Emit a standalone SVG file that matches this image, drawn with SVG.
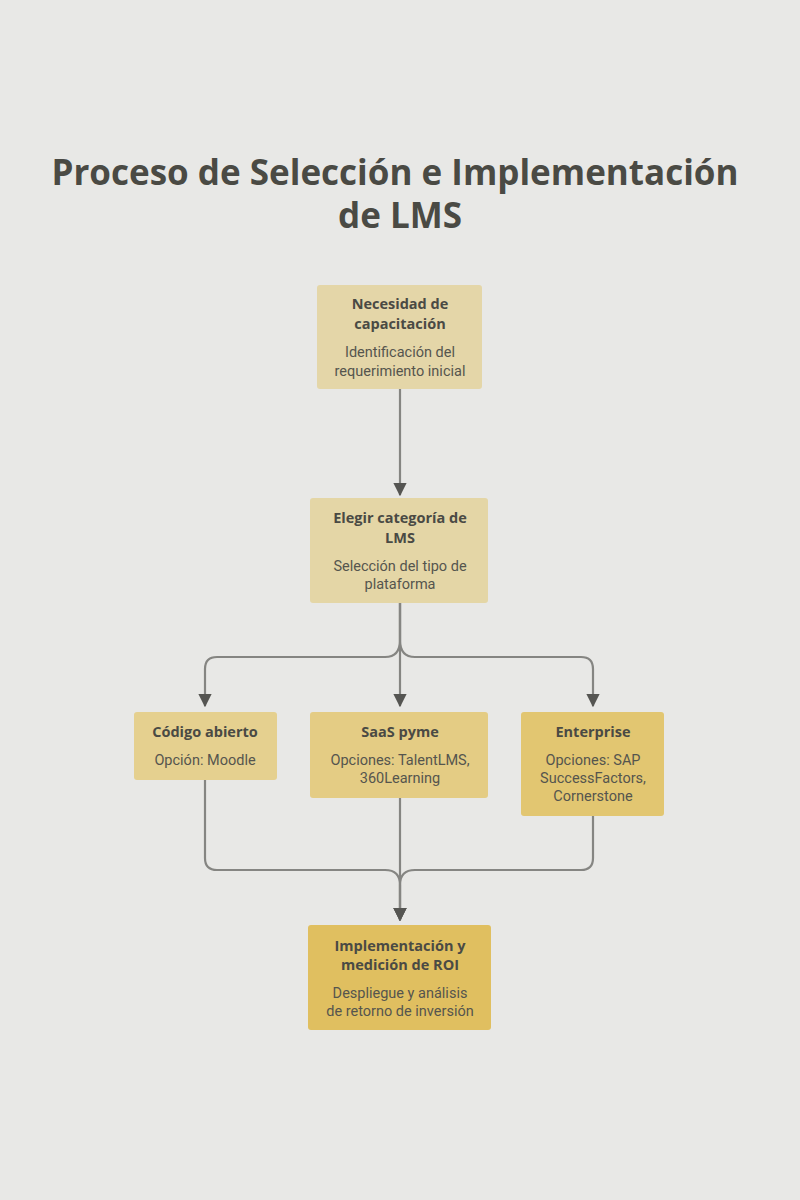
<svg xmlns="http://www.w3.org/2000/svg" width="800" height="1200" viewBox="0 0 800 1200">
<style>
.t{font-family:"Open Sans","Noto Sans",sans-serif;font-weight:bold;fill:#4a4a44;text-anchor:middle}
.h{font-family:"Open Sans","Noto Sans",sans-serif;font-weight:bold;font-size:14.5px;fill:#4a4a44;text-anchor:middle}
.b{font-family:Roboto,"Liberation Sans",sans-serif;font-size:14.5px;fill:#55554e;text-anchor:middle}
.c{fill:none;stroke:#858582;stroke-width:2.2}
</style>
<defs><marker id="a" viewBox="0 0 10 10" refX="9" refY="5" markerWidth="6" markerHeight="6" orient="auto"><path d="M0,0L10,5L0,10z" fill="#555552"/></marker></defs>
<rect width="800" height="1200" fill="#e8e8e6"/>
<text class="t" font-size="35" x="395" y="185">Proceso de Selección e Implementación</text>
<text class="t" font-size="35" x="400" y="228">de LMS</text>
<g id="connectors">
<path class="c" d="M400,389V495" marker-end="url(#a)"/>
<path class="c" d="M400,603V706" marker-end="url(#a)"/>
<path class="c" d="M400,603V640Q400,657 385,657H217Q205,657 205,669V706" marker-end="url(#a)"/>
<path class="c" d="M400,603V640Q400,657 415,657H581Q593,657 593,669V706" marker-end="url(#a)"/>
<path class="c" d="M205,780V858Q205,870 217,870H385Q400,870 400,885V920" marker-end="url(#a)"/>
<path class="c" d="M400,798V920" marker-end="url(#a)"/>
<path class="c" d="M593,816V858Q593,870 581,870H415Q400,870 400,885V920" marker-end="url(#a)"/>
</g>
<g id="n1"><rect x="317" y="285" width="165" height="104" rx="3" fill="#e4d6a8"/>
<text class="h" x="400" y="309">Necesidad de</text><text class="h" x="400" y="329">capacitación</text>
<text class="b" x="400" y="357">Identificación del</text><text class="b" x="400" y="376">requerimiento inicial</text></g>
<g id="n2"><rect x="310" y="498" width="178" height="105" rx="3" fill="#e4d6a6"/>
<text class="h" x="400" y="523">Elegir categoría de</text><text class="h" x="400" y="543">LMS</text>
<text class="b" x="400" y="571">Selección del tipo de</text><text class="b" x="400" y="589">plataforma</text></g>
<g id="n3"><rect x="134" y="712" width="143" height="68" rx="3" fill="#e5d08f"/>
<text class="h" x="205" y="737">Código abierto</text><text class="b" x="205" y="765">Opción: Moodle</text></g>
<g id="n4"><rect x="310" y="712" width="178" height="86" rx="3" fill="#e4cc84"/>
<text class="h" x="400" y="737">SaaS pyme</text><text class="b" x="400" y="765">Opciones: TalentLMS,</text><text class="b" x="400" y="783">360Learning</text></g>
<g id="n5"><rect x="521" y="712" width="143" height="104" rx="3" fill="#e2c671"/>
<text class="h" x="593" y="737">Enterprise</text><text class="b" x="593" y="765">Opciones: SAP</text><text class="b" x="593" y="783">SuccessFactors,</text><text class="b" x="593" y="801">Cornerstone</text></g>
<g id="n6"><rect x="308" y="925" width="183" height="105" rx="3" fill="#e0bf60"/>
<text class="h" x="400" y="951">Implementación y</text><text class="h" x="400" y="970">medición de ROI</text>
<text class="b" x="400" y="998">Despliegue y análisis</text><text class="b" x="400" y="1016">de retorno de inversión</text></g>
</svg>
